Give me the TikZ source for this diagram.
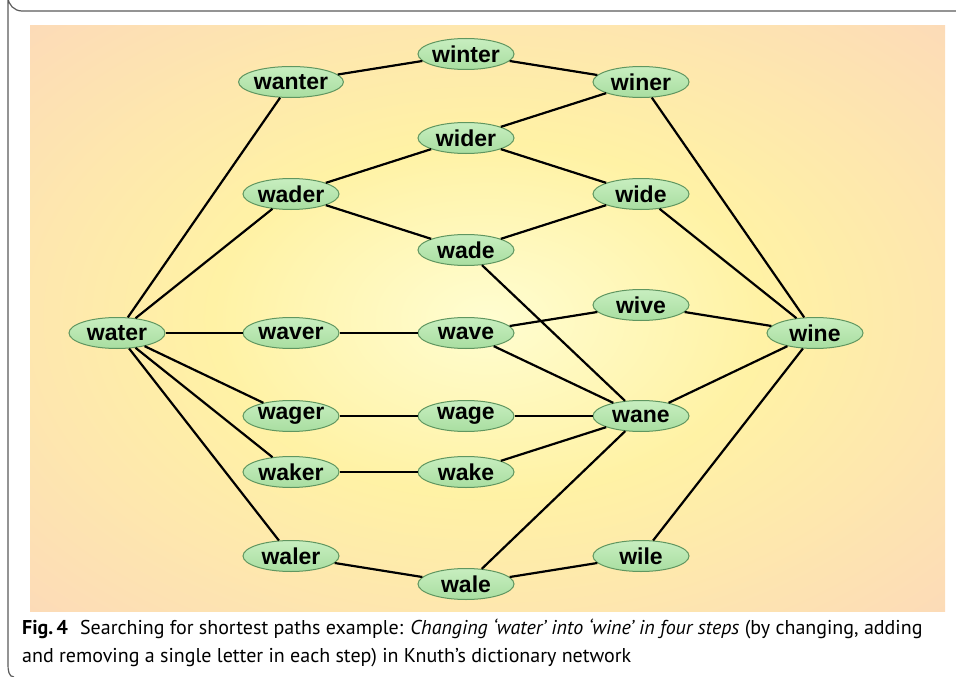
\documentclass[tikz,border=0pt]{standalone}
\usepackage{fontspec}
\setmainfont{Liberation Sans}
\newfontfamily\capfont{PT Sans}
\usetikzlibrary{shapes.geometric}
\definecolor{peach}{RGB}{252,216,186}
\definecolor{glowyellow}{RGB}{255,242,165}
\definecolor{paleyellow}{RGB}{255,253,208}
\definecolor{leafgreen}{RGB}{168,222,160}
\definecolor{palegreen}{RGB}{200,238,192}
\definecolor{leafedge}{RGB}{96,150,96}
\definecolor{framegray}{RGB}{90,90,90}
\pgfdeclareradialshading{panelglow}{\pgfpoint{0bp}{0bp}}{%
  color(0bp)=(paleyellow); color(15bp)=(glowyellow);
  color(38bp)=(peach); color(50bp)=(peach)}
\tikzset{
  word/.style={
    ellipse,
    draw=leafedge,
    line width=1pt,
    top color=palegreen,
    bottom color=leafgreen,
    minimum width=96pt,
    minimum height=31pt,
    inner sep=0pt,
    font=\fontsize{23}{23}\selectfont\bfseries
  },
  link/.style={
    line width=2.2pt,
    black
  }
}

\begin{document}
\begin{tikzpicture}[x=1pt,y=-1pt]
\useasboundingbox (0,0) rectangle (956,677);
% frame and panel
\draw[framegray,line width=1.2pt] (956,11) -- (22,11) arc[start angle=90,end angle=180,radius=14] -- (8,664) to[out=270,in=180] (14,677);
\shade[shading=panelglow] (30,26) rectangle (945,611);
% words
\node[word] (water)  at (117,333) {water};
\node[word] (wanter) at (291,82)  {wanter};
\node[word] (winter) at (466,54)  {winter};
\node[word] (winer)  at (641,82)  {winer};
\node[word] (wider)  at (466,138) {wider};
\node[word] (wader)  at (291,194) {wader};
\node[word] (wide)   at (641,194) {wide};
\node[word] (wade)   at (466,250) {wade};
\node[word] (wive)   at (641,305) {wive};
\node[word] (wine)   at (815,333) {wine};
\node[word] (waver)  at (291,333) {waver};
\node[word] (wave)   at (466,333) {wave};
\node[word] (wager)  at (291,416) {wager};
\node[word] (wage)   at (466,416) {wage};
\node[word] (wane)   at (641,416) {wane};
\node[word] (waker)  at (291,472) {waker};
\node[word] (wake)   at (466,472) {wake};
\node[word] (waler)  at (291,556) {waler};
\node[word] (wale)   at (466,584) {wale};
\node[word] (wile)   at (641,556) {wile};
% one-letter changes
\foreach \a/\b in {water/wanter,water/wader,water/waver,water/wager,water/waker,water/waler,
  wanter/winter,winter/winer,winer/wine,wider/winer,wader/wider,wider/wide,wader/wade,
  wade/wide,wide/wine,wade/wane,wave/wive,wive/wine,waver/wave,wave/wane,wager/wage,
  wage/wane,wane/wine,waker/wake,wake/wane,waler/wale,wale/wane,wale/wile,wile/wine}
  \draw[link] (\a) -- (\b);
% caption
\node[anchor=north west,align=left,inner sep=0pt,
  font=\capfont\fontsize{20}{28}\selectfont] (caption) at (22,619)
  {\textbf{Fig.\,4}\hspace{0.6em}Searching for shortest paths example: \textit{Changing ‘water’ into ‘wine’ in four steps} (by changing, adding\\and removing a single letter in each step) in Knuth’s dictionary network};
\end{tikzpicture}
\end{document}
